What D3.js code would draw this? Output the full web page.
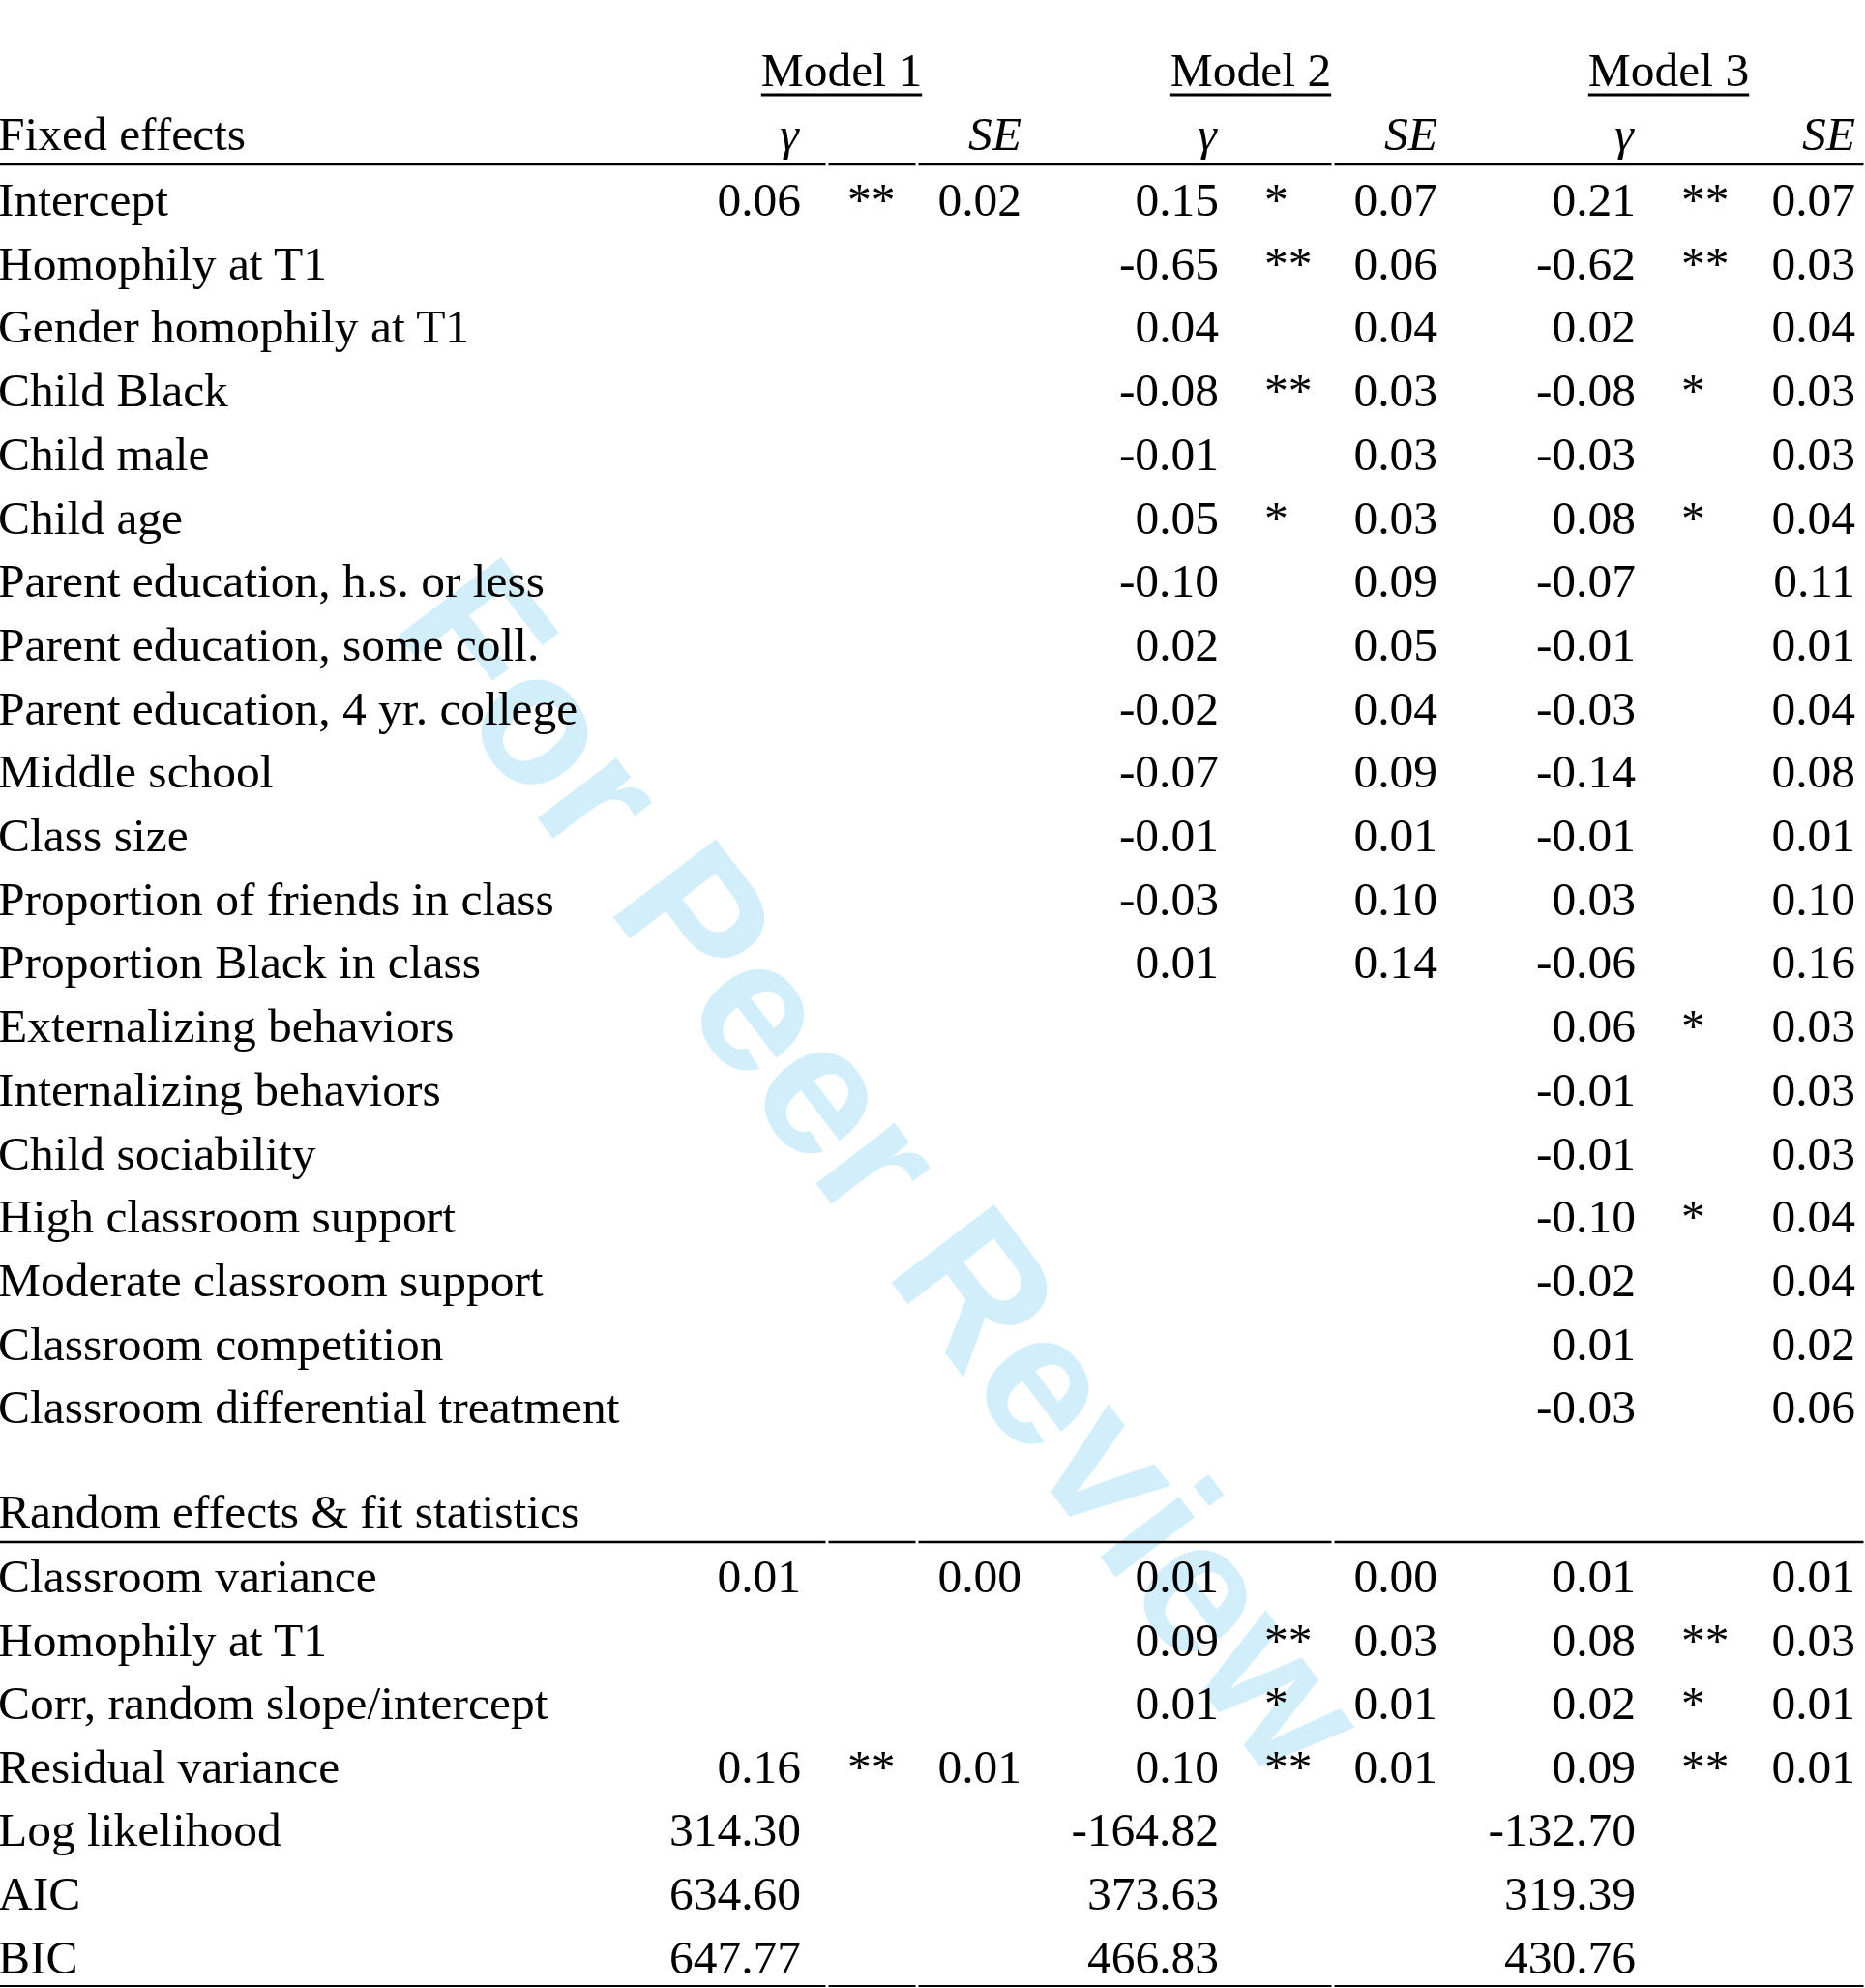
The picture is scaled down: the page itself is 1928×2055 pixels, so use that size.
<!DOCTYPE html>
<html>
<head>
<meta charset="utf-8">
<script src="https://cdn.jsdelivr.net/npm/d3@7"></script>
<style>
  body { margin: 0; background: #fff; }
  text { font-family: "Liberation Serif", "Times New Roman", serif; font-size: 49.5px; fill: #000; }
</style>
</head>
<body>
<svg id="chart" width="1928" height="2055"></svg>
<script>
// table content
const models = ["Model 1", "Model 2", "Model 3"]
const fixedLabels = ["Intercept", "Homophily at T1", "Gender homophily at T1", "Child Black", "Child male", "Child age",
    "Parent education, h.s. or less", "Parent education, some coll.", "Parent education, 4 yr. college", "Middle school",
    "Class size", "Proportion of friends in class", "Proportion Black in class", "Externalizing behaviors",
    "Internalizing behaviors", "Child sociability", "High classroom support", "Moderate classroom support",
    "Classroom competition", "Classroom differential treatment"]
const fixedM1 = [["0.06", "**", "0.02"]]
const fixedM2 = [["0.15", "*", "0.07"], ["-0.65", "**", "0.06"], ["0.04", "", "0.04"], ["-0.08", "**", "0.03"],
    ["-0.01", "", "0.03"], ["0.05", "*", "0.03"], ["-0.10", "", "0.09"], ["0.02", "", "0.05"], ["-0.02", "", "0.04"],
    ["-0.07", "", "0.09"], ["-0.01", "", "0.01"], ["-0.03", "", "0.10"], ["0.01", "", "0.14"]]
const fixedM3 = [["0.21", "**", "0.07"], ["-0.62", "**", "0.03"], ["0.02", "", "0.04"], ["-0.08", "*", "0.03"],
    ["-0.03", "", "0.03"], ["0.08", "*", "0.04"], ["-0.07", "", "0.11"], ["-0.01", "", "0.01"], ["-0.03", "", "0.04"],
    ["-0.14", "", "0.08"], ["-0.01", "", "0.01"], ["0.03", "", "0.10"], ["-0.06", "", "0.16"], ["0.06", "*", "0.03"],
    ["-0.01", "", "0.03"], ["-0.01", "", "0.03"], ["-0.10", "*", "0.04"], ["-0.02", "", "0.04"], ["0.01", "", "0.02"],
    ["-0.03", "", "0.06"]]
const randomLabels = ["Classroom variance", "Homophily at T1", "Corr, random slope/intercept", "Residual variance",
    "Log likelihood", "AIC", "BIC"]
const randomM1 = [["0.01", "", "0.00"], null, null, ["0.16", "**", "0.01"], ["314.30", "", ""], ["634.60", "", ""], ["647.77", "", ""]]
const randomM2 = [["0.01", "", "0.00"], ["0.09", "**", "0.03"], ["0.01", "*", "0.01"], ["0.10", "**", "0.01"],
    ["-164.82", "", ""], ["373.63", "", ""], ["466.83", "", ""]]
const randomM3 = [["0.01", "", "0.01"], ["0.08", "**", "0.03"], ["0.02", "*", "0.01"], ["0.09", "**", "0.01"],
    ["-132.70", "", ""], ["319.39", "", ""], ["430.76", "", ""]]

const svg = d3.select("#chart")

// watermark
svg.append("text")
    .attr("transform", "translate(915,1206) rotate(52.7)")
    .attr("text-anchor", "middle")
    .attr("dominant-baseline", "central")
    .style("font-family", "'Liberation Sans', Arial, sans-serif")
    .style("font-weight", "bold")
    .style("font-size", "194px")
    .style("fill", "#d3eefb")
    .text("For Peer Review")

// column positions: gamma right edge, star left edge, SE right edge
const cols = [{g: 828, s: 876, se: 1056, c: 870}, {g: 1260, s: 1307, se: 1486, c: 1293}, {g: 1691, s: 1738, se: 1918, c: 1725}]
const gapXs = [0, 855, 948, 1378, 1928]

function rule(y, w) {
    for (let i = 0; i < gapXs.length - 1; i++) {
        svg.append("line")
            .attr("x1", gapXs[i] + (i ? 1.5 : 0)).attr("x2", gapXs[i + 1] - 1.5)
            .attr("y1", y).attr("y2", y)
            .attr("stroke", "#000").attr("stroke-width", w)
    }
}

// model headers
models.forEach((m, i) => {
    const t = svg.append("text").attr("x", cols[i].c).attr("y", 89).attr("text-anchor", "middle").text(m)
    const bb = t.node().getBBox()
    svg.append("line").attr("x1", bb.x).attr("x2", bb.x + bb.width).attr("y1", 98).attr("y2", 98)
        .attr("stroke", "#000").attr("stroke-width", 3)
})

svg.append("text").attr("x", -2).attr("y", 155).text("Fixed effects")
cols.forEach(c => {
    svg.append("text").attr("x", c.g - 12).attr("y", 155).attr("text-anchor", "middle").style("font-style", "italic").text("γ")
    svg.append("text").attr("x", c.se).attr("y", 155).attr("text-anchor", "end").style("font-style", "italic").text("SE")
})
rule(170, 2.5)

function block(labels, series, y0, step) {
    const y = d3.scaleLinear().domain([0, 1]).range([y0, y0 + step])
    labels.forEach((l, r) => {
        svg.append("text").attr("x", -2).attr("y", y(r)).text(l)
    })
    series.forEach((arr, i) => {
        arr.forEach((v, r) => {
            if (!v) return
            const c = cols[i]
            if (v[0]) svg.append("text").attr("x", c.g).attr("y", y(r)).attr("text-anchor", "end").text(v[0])
            if (v[1]) svg.append("text").attr("x", c.s).attr("y", y(r)).text(v[1])
            if (v[2]) svg.append("text").attr("x", c.se).attr("y", y(r)).attr("text-anchor", "end").text(v[2])
        })
    })
}

block(fixedLabels, [fixedM1, fixedM2, fixedM3], 223, 65.7)

svg.append("text").attr("x", -2).attr("y", 1579).text("Random effects & fit statistics")
rule(1594, 2.5)
block(randomLabels, [randomM1, randomM2, randomM3], 1646, 65.6)
rule(2053, 2)
</script>
</body>
</html>
